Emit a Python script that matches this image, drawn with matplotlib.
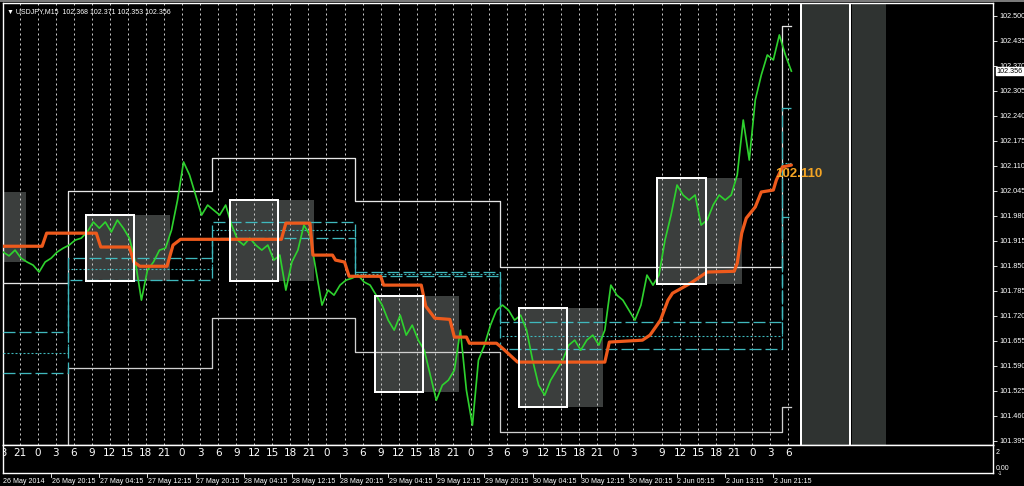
import matplotlib
matplotlib.use('Agg')
import matplotlib.pyplot as plt
from matplotlib.patches import Rectangle
from matplotlib.transforms import blended_transform_factory

plt.rcParams['lines.scale_dashes'] = False
plt.rcParams['font.family'] = ['Liberation Sans', 'DejaVu Sans']

# ---------------- data ----------------
title = '▼ USDJPY,M15  102.368 102.371 102.353 102.356'
current_price = 102.356
ma_label = '102.110'

# green price line (M15 closes, sampled every 4 bars starting at bar -11)
green_bars = list(range(-11, 514, 4))
green_price = [
    101.886, 101.876, 101.891, 101.870, 101.860, 101.852, 101.834, 101.860, 101.870, 101.886,
    101.896, 101.904, 101.917, 101.922, 101.938, 101.964, 101.948, 101.964, 101.938, 101.969,
    101.948, 101.922, 101.860, 101.761, 101.839, 101.860, 101.891, 101.896, 101.943, 102.021,
    102.120, 102.086, 102.034, 101.982, 102.008, 101.995, 101.982, 102.008, 101.956, 101.917,
    101.904, 101.922, 101.904, 101.891, 101.904, 101.865, 101.878, 101.787, 101.860, 101.891,
    101.956, 101.930, 101.839, 101.748, 101.787, 101.774, 101.800, 101.813, 101.818, 101.826,
    101.808, 101.800, 101.774, 101.748, 101.709, 101.683, 101.722, 101.670, 101.696, 101.657,
    101.631, 101.566, 101.501, 101.540, 101.553, 101.579, 101.683, 101.527, 101.436, 101.605,
    101.644, 101.696, 101.735, 101.748, 101.735, 101.709, 101.722, 101.683, 101.605, 101.540,
    101.514, 101.553, 101.579, 101.605, 101.644, 101.657, 101.631, 101.657, 101.670, 101.644,
    101.683, 101.800, 101.774, 101.761, 101.735, 101.709, 101.748, 101.826, 101.800, 101.826,
    101.917, 101.982, 102.060, 102.034, 102.021, 102.034, 101.956, 101.969, 102.008, 102.034,
    102.021, 102.034, 102.086, 102.229, 102.125, 102.281, 102.346, 102.398, 102.385, 102.450,
    102.398, 102.356,
]

# orange moving average (vertices)
ma_bars = [-11, 15, 18, 51, 54, 73, 76, 80, 98, 102, 107, 174, 177, 193, 195, 208, 210, 216,
           219, 240, 242, 267, 270, 276, 286, 289, 297, 299, 317, 321, 331, 389, 392, 414,
           419, 426, 431, 434, 446, 457, 475, 477, 480, 483, 489, 493, 501, 503, 507, 513]
ma_price = [101.901, 101.901, 101.935, 101.935, 101.899, 101.899, 101.860, 101.849, 101.849,
            101.904, 101.919, 101.919, 101.961, 101.961, 101.878, 101.878, 101.865, 101.860,
            101.823, 101.823, 101.800, 101.800, 101.745, 101.714, 101.711, 101.665, 101.665,
            101.649, 101.649, 101.636, 101.600, 101.600, 101.652, 101.657, 101.670, 101.709,
            101.761, 101.779, 101.805, 101.834, 101.836, 101.857, 101.935, 101.974, 102.003,
            102.042, 102.047, 102.073, 102.107, 102.112]

# session boxes: start bar, range high, range low (white part 32 bars, grey extension 24 bars)
box_start = [-52, 44, 140, 236, 332, 424]
box_high = [102.042, 101.982, 102.021, 101.772, 101.741, 102.078]
box_low = [101.861, 101.811, 101.811, 101.522, 101.483, 101.803]
box_core_len = 32
box_ext_len = 24
open_box_start = 520

# daily channel (white steps) and pivot levels (cyan)
day_bounds = [-11, 32, 128, 223, 319, 507, 513]
chan_high = [101.806, 102.045, 102.130, 102.018, 101.848, 102.473]
chan_low = [101.300, 101.585, 101.715, 101.626, 101.419, 101.484]
piv_r = [101.678, 101.871, 101.965, 101.835, 101.703, 102.260]
piv_m = [101.624, 101.841, 101.943, 101.829, 101.668, 102.117]
piv_s = [101.572, 101.813, 101.922, 101.824, 101.633, 101.978]

# axes
price_ticks = ['102.500', '102.435', '102.370', '102.305', '102.240', '102.175', '102.110',
               '102.045', '101.980', '101.915', '101.850', '101.785', '101.720', '101.655',
               '101.590', '101.525', '101.460', '101.395']
grid_bars = [-12, 0, 12, 24, 36, 48, 60, 72, 84, 96, 108, 120, 132, 144, 156, 168, 180, 192,
             204, 216, 228, 240, 252, 264, 276, 288, 300, 312, 324, 336, 348, 360, 372, 384,
             396, 408, 427, 439, 451, 463, 475, 487, 499, 511]
hour_labels = ['18', '21', '0', '3', '6', '9', '12', '15', '18', '21', '0', '3', '6', '9', '12',
               '15', '18', '21', '0', '3', '6', '9', '12', '15', '18', '21', '0', '3', '6', '9',
               '12', '15', '18', '21', '0', '3', '9', '12', '15', '18', '21', '0', '3', '6']
date_bars = [-11, 21, 53, 85, 117, 149, 181, 213, 245, 277, 309, 341, 373, 405, 437, 469, 501]
date_labels = ['26 May 2014', '26 May 20:15', '27 May 04:15', '27 May 12:15', '27 May 20:15',
               '28 May 04:15', '28 May 12:15', '28 May 20:15', '29 May 04:15', '29 May 12:15',
               '29 May 20:15', '30 May 04:15', '30 May 12:15', '30 May 20:15', '2 Jun 05:15',
               '2 Jun 13:15', '2 Jun 21:15']

# ---------------- figure ----------------
W, H, DPI = 1024, 486, 100
PX = 72.0 / DPI
fig = plt.figure(figsize=(W / DPI, H / DPI), dpi=DPI, facecolor='black')


def rect(x0, y0, x1, y1):
    return [x0 / W, 1 - y1 / H, (x1 - x0) / W, (y1 - y0) / H]


# thin grey strip along the top of the window
fig.patches.append(Rectangle((0, 1 - 2 / H), 1, 2 / H, transform=fig.transFigure,
                             facecolor='#7a7a7a', edgecolor='none'))

XLIM = (-11, 647)
ax = fig.add_axes(rect(3, 3, 993, 445))
ax.set_facecolor('black')
ax.set_xlim(*XLIM)
ax.set_ylim(101.3846, 102.5330)
for s in ax.spines.values():
    s.set_color('white')
    s.set_linewidth(1.0)

GREY_BOX = '#3b3e3d'
GREY_COL = '#2f3331'

# open (future) session columns
ax.axvspan(open_box_start, open_box_start + box_core_len, color=GREY_COL, zorder=1, lw=0)
ax.axvspan(open_box_start + box_core_len + 1, open_box_start + box_core_len + box_ext_len,
           color=GREY_COL, zorder=1, lw=0)
ax.axvline(open_box_start - 0.5, color='white', lw=2 * PX, zorder=2)
ax.axvline(open_box_start + box_core_len, color='white', lw=2 * PX, zorder=2)

# session boxes
for s, hi, lo in zip(box_start, box_high, box_low):
    ax.add_patch(Rectangle((s, lo), box_core_len + box_ext_len, hi - lo,
                           facecolor=GREY_BOX, edgecolor='none', zorder=1))
    ax.add_patch(Rectangle((s, lo), box_core_len, hi - lo, facecolor='none',
                           edgecolor='white', lw=2 * PX, zorder=6))

# grid
for g in grid_bars:
    ax.axvline(g, color='#c8c8c8', lw=1 * PX, dashes=(2 * PX, 3 * PX), zorder=2)


def steps(bounds, levels):
    xs, ys = [], []
    for i, lv in enumerate(levels):
        xs += [bounds[i], bounds[i + 1]]
        ys += [lv, lv]
    return xs, ys


# channel
x, y = steps(day_bounds, chan_high)
ax.plot(x, y, color='#e6e6e6', lw=1.3 * PX, zorder=3)
x, y = steps(day_bounds, chan_low)
ax.plot(x, y, color='#d0d0d0', lw=1.3 * PX, zorder=3)

# pivots
CYAN = '#3fb8bd'
x, y = steps(day_bounds, piv_r)
ax.plot(x, y, color=CYAN, lw=1.3 * PX, dashes=(12 * PX, 4 * PX), zorder=3)
x, y = steps(day_bounds, piv_m)
ax.plot(x, y, color=CYAN, lw=1.1 * PX, dashes=(2 * PX, 2 * PX), zorder=3)
x, y = steps(day_bounds, piv_s)
ax.plot(x, y, color=CYAN, lw=1.3 * PX, dashes=(12 * PX, 4 * PX), zorder=3)

# price line
ax.plot(green_bars, green_price, color='#2ed12e', lw=1.7 * PX, zorder=4)

# moving average
ax.plot(ma_bars, ma_price, color='#ee5a1c', lw=3.2 * PX, zorder=5, solid_capstyle='round',
        solid_joinstyle='round')
ax.text(ma_bars[-1] - 11, 102.089, ma_label, color='#f5a524', fontsize=9.5,
        fontweight='bold', va='center', ha='left', zorder=7)

# title
ax.text(0.004, 0.988, title, transform=ax.transAxes, color='white', fontsize=5.0,
        va='top', ha='left', zorder=8)

# price axis
ax.set_xticks([])
ax.yaxis.tick_right()
ax.set_yticks([float(t) for t in price_ticks])
ax.set_yticklabels(price_ticks)
ax.tick_params(axis='y', colors='white', labelsize=5.2, length=3, width=0.6, pad=1.5,
               direction='out')
tr = blended_transform_factory(ax.transAxes, ax.transData)
ax.text(1.0035, current_price, '102.356', transform=tr, color='black', fontsize=5.2,
        va='center', ha='left', zorder=9, clip_on=False,
        bbox=dict(boxstyle='square,pad=0.12', fc='white', ec='white'))

# sub window
sub = fig.add_axes(rect(3, 445, 993, 473))
sub.set_facecolor('black')
sub.set_xlim(*XLIM)
sub.set_ylim(0, 1)
sub.set_xticks([])
sub.set_yticks([])
for s in sub.spines.values():
    s.set_color('white')
    s.set_linewidth(1.0)
for g, lab in zip(grid_bars, hour_labels):
    sub.text(g, 0.72, lab, color='white', fontsize=7.5, ha='center', va='center',
             clip_on=True, family=['DejaVu Sans'])
fig.text(996 / W, 1 - 452 / H, '2', color='white', fontsize=5.0, va='center', ha='left')
fig.text(996 / W, 1 - 468 / H, '0.00', color='white', fontsize=5.0, va='center', ha='left')
fig.text(998 / W, 1 - 473 / H, '-1', color='white', fontsize=3.5, va='center', ha='left')

# time axis
trs = blended_transform_factory(sub.transData, sub.transAxes)
for b, lab in zip(date_bars, date_labels):
    if b > XLIM[0]:
        sub.plot([b, b], [-0.02, -0.14], color='white', lw=0.6, transform=trs, clip_on=False)
    sub.text(b + 0.3, -0.29, lab, transform=trs, color='white', fontsize=5.1, ha='left',
             va='center', clip_on=False)

fig.savefig('out.png', dpi=DPI, facecolor='black')
